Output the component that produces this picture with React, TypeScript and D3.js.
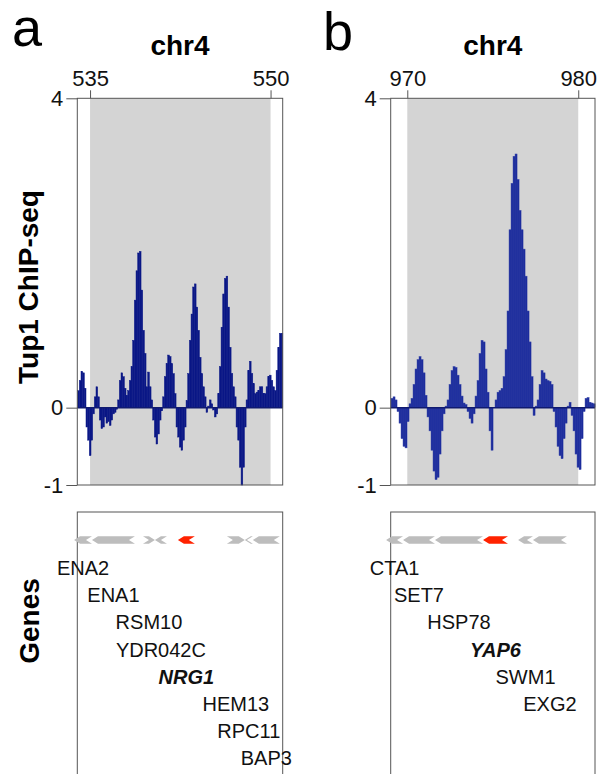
import { useEffect, useRef } from "react";
import * as d3 from "d3";

// Tup1 ChIP-seq signal around NRG1 (chr4, kb), bins
const nrg1Start = 533.97;
const nrg1Step = 0.1386;
const nrg1Signal = [
  0.22, 0.35, 0.47, 0.45, 0.25, -0.25, -0.42, -0.62, -0.42, -0.08,
  0.14, 0.27, 0.14, -0.16, -0.27, -0.25, -0.12, -0.2, -0.18, -0.23,
  -0.16, -0.08, -0.06, -0.02, 0.1, 0.35, 0.45, 0.4, 0.25, 0.16,
  0.22, 0.35, 0.53, 0.87, 1.39, 1.77, 2.0, 2.02, 1.52, 1.0,
  0.7, 0.27, 0.46, 0.27, 0.1, -0.16, -0.38, -0.47, -0.34, -0.16,
  -0.04, 0.14, 0.4, 0.57, 0.68, 0.66, 0.57, 0.44, 0.18, -0.25,
  -0.38, -0.51, -0.55, -0.42, -0.25, 0.09, 0.44, 0.87, 1.21, 1.56,
  1.6, 1.3, 1.0, 0.65, 0.44, 0.27, 0.14, -0.06, 0.02, 0.1,
  0.05, -0.03, -0.12, -0.08, 0.18, 0.53, 1.04, 1.47, 1.67, 1.7,
  1.3, 0.78, 0.44, 0.27, 0.14, -0.25, -0.42, -0.77, -1.0, -0.77,
  -0.25, 0.1, 0.48, 0.6, 0.44, 0.31, 0.18, 0.2, 0.22, 0.27,
  0.27, 0.18, 0.18, 0.27, 0.4, 0.42, 0.35, 0.27, 0.22, 0.48,
  0.78, 0.96, 0.96,
];

// same around YAP6
const yap6Start = 969.05;
const yap6Step = 0.117;
const yap6Signal = [
  0.12, 0.14, 0.1, -0.05, -0.2, -0.4, -0.5, -0.52, -0.18, 0.05,
  0.12, 0.3, 0.5, 0.62, 0.66, 0.62, 0.45, 0.16, -0.12, -0.3,
  -0.55, -0.82, -0.93, -0.9, -0.6, -0.3, -0.08, 0.02, 0.1, 0.3,
  0.48, 0.53, 0.52, 0.42, 0.3, 0.15, 0.06, 0.04, -0.05, -0.14,
  -0.2, -0.08, 0.15, 0.35, 0.7, 0.87, 0.85, 0.5, 0.2, -0.3,
  -0.55, 0.0, 0.1, 0.2, 0.22, 0.25, 0.4, 0.75, 1.25, 2.3,
  2.9, 3.25, 3.28, 2.95, 2.55, 2.3, 2.05, 1.7, 1.25, 0.85,
  0.4, -0.1, 0.02, 0.1, 0.3, 0.48, 0.45, 0.37, 0.35, 0.34,
  0.3, -0.05, -0.25, -0.5, -0.62, -0.66, -0.4, -0.2, 0.02, 0.07,
  -0.1, -0.3, -0.6, -0.77, -0.8, -0.4, -0.05, 0.12, 0.13, 0.07,
  0.06, 0.05,
];

// genes (kb), strand -1 = pointing left
const nrg1Genes = [
  { name: "ENA2", start: 533.67, end: 535.16, strand: -1 },
  { name: "ENA1", start: 535.16, end: 538.73, strand: -1 },
  { name: "RSM10", start: 539.4, end: 540.39, strand: 1 },
  { name: "YDR042C", start: 540.39, end: 541.39, strand: -1 },
  { name: "NRG1", start: 542.3, end: 543.71, strand: -1 },
  { name: "HEM13", start: 546.37, end: 547.86, strand: 1 },
  { name: "RPC11", start: 547.86, end: 548.53, strand: -1 },
  { name: "BAP3", start: 548.53, end: 550.77, strand: -1 },
];
const yap6Genes = [
  { name: "CTA1", start: 968.76, end: 969.75, strand: -1 },
  { name: "SET7", start: 969.75, end: 971.62, strand: -1 },
  { name: "HSP78", start: 971.62, end: 974.43, strand: -1 },
  { name: "YAP6", start: 974.43, end: 975.89, strand: -1 },
  { name: "SWM1", start: 976.48, end: 977.35, strand: -1 },
  { name: "EXG2", start: 977.35, end: 979.34, strand: -1 },
];

const nrg1Ticks = [535, 550];
const yap6Ticks = [970, 980];
const yTicks = [4, 0, -1];

const font = "'Liberation Sans', Arial, Helvetica, sans-serif";

type Gene = { name: string; start: number; end: number; strand: number };
type PanelOpts = {
  letter: string;
  letterX: number;
  letterY: number;
  left: number;
  right: number;
  domain: [number, number];
  ticks: number[];
  start: number;
  step: number;
  signal: number[];
  genes: Gene[];
  target: string;
  barFill: string;
  barStroke: string;
};

const drawPanel = (svg: d3.Selection<SVGSVGElement, unknown, null, undefined>, o: PanelOpts) => {
  const top = 98.3, bottom = 485;
  const x = d3.scaleLinear().domain(o.domain).range([o.left, o.right]);
  const y = d3.scaleLinear().domain([-1, 4]).range([bottom, top]);
  const g = svg.append("g");

  // panel letter
  g.append("text").attr("x", o.letterX).attr("y", o.letterY)
    .attr("font-size", 54).attr("font-family", font).text(o.letter);

  // title
  g.append("text").attr("x", (o.left + o.right) / 2).attr("y", 55)
    .attr("text-anchor", "middle").attr("font-size", 28).attr("font-weight", "bold")
    .attr("font-family", font).text("chr4");

  // shaded region between the two ticks
  g.append("rect")
    .attr("x", x(o.ticks[0])).attr("y", top)
    .attr("width", x(o.ticks[1]) - x(o.ticks[0])).attr("height", bottom - top)
    .attr("fill", "#d4d4d4");

  // bars
  g.append("g").selectAll("rect").data(o.signal).enter().append("rect")
    .attr("x", (_d, i) => x(o.start + i * o.step))
    .attr("width", x(o.start + o.step) - x(o.start))
    .attr("y", (d) => y(Math.max(0, d)))
    .attr("height", (d) => Math.abs(y(d) - y(0)))
    .attr("fill", o.barFill)
    .attr("stroke", o.barStroke).attr("stroke-width", 0.5);

  // zero line
  g.append("line").attr("x1", o.left).attr("x2", o.right)
    .attr("y1", y(0)).attr("y2", y(0))
    .attr("stroke", "#101a70").attr("stroke-width", 1.5);

  // frame
  g.append("rect").attr("x", o.left).attr("y", top)
    .attr("width", o.right - o.left).attr("height", bottom - top)
    .attr("fill", "none").attr("stroke", "#555").attr("stroke-width", 1);

  // top axis
  const xAxis = g.append("g").attr("transform", `translate(0,${top})`)
    .call(d3.axisTop(x).tickValues(o.ticks).tickSize(8).tickPadding(4).tickFormat((d) => String(d)));
  xAxis.select(".domain").remove();
  xAxis.selectAll("line").attr("stroke", "#555");
  xAxis.selectAll("text").attr("font-size", 22).attr("font-family", font).attr("fill", "#111");

  // left axis
  const yAxis = g.append("g").attr("transform", `translate(${o.left},0)`)
    .call(d3.axisLeft(y).tickValues(yTicks).tickSize(11).tickPadding(3).tickFormat((d) => String(d)));
  yAxis.select(".domain").remove();
  yAxis.selectAll("line").attr("stroke", "#555");
  yAxis.selectAll("text").attr("font-size", 22).attr("font-family", font).attr("fill", "#111");

  // gene panel
  const gTop = 512;
  g.append("rect").attr("x", o.left).attr("y", gTop)
    .attr("width", o.right - o.left).attr("height", 300)
    .attr("fill", "none").attr("stroke", "#555").attr("stroke-width", 1);

  const yc = 540, hh = 3.8, a = 6;
  const shape = (gn: Gene) => {
    const x1 = x(gn.start), x2 = x(gn.end);
    const pts = gn.strand < 0
      ? [[x1, yc], [x1 + a, yc - hh], [x2, yc - hh], [x2 - a, yc], [x2, yc + hh], [x1 + a, yc + hh]]
      : [[x2, yc], [x2 - a, yc - hh], [x1, yc - hh], [x1 + a, yc], [x1, yc + hh], [x2 - a, yc + hh]];
    return pts.map((p) => p.join(",")).join(" ");
  };
  g.append("g").selectAll("polygon").data(o.genes).enter().append("polygon")
    .attr("points", shape)
    .attr("fill", (d) => (d.name === o.target ? "#ff2200" : "#bdbdbd"));

  g.append("g").selectAll("text").data(o.genes).enter().append("text")
    .attr("x", (d) => (x(d.start) + x(d.end)) / 2)
    .attr("y", (_d, i) => 575 + i * 27.2)
    .attr("text-anchor", "middle").attr("font-size", 20).attr("font-family", font)
    .attr("fill", "#111")
    .attr("font-weight", (d) => (d.name === o.target ? "bold" : "normal"))
    .attr("font-style", (d) => (d.name === o.target ? "italic" : "normal"))
    .text((d) => d.name);
};

const App = () => {
  const ref = useRef<SVGSVGElement>(null);

  useEffect(() => {
    const svg = d3.select(ref.current!);
    svg.selectAll("*").remove();

    drawPanel(svg, {
      letter: "a", letterX: 12, letterY: 46,
      left: 77.3, right: 282.7, domain: [533.94, 551.01], ticks: nrg1Ticks,
      start: nrg1Start, step: nrg1Step, signal: nrg1Signal,
      genes: nrg1Genes, target: "NRG1", barFill: "#0a1786", barStroke: "#0a1786",
    });
    drawPanel(svg, {
      letter: "b", letterX: 323, letterY: 50,
      left: 390.7, right: 595, domain: [969.03, 980.98], ticks: yap6Ticks,
      start: yap6Start, step: yap6Step, signal: yap6Signal,
      genes: yap6Genes, target: "YAP6", barFill: "#17279a", barStroke: "#3443a8",
    });

    // axis titles
    svg.append("text").attr("transform", "translate(38,287) rotate(-90)")
      .attr("text-anchor", "middle").attr("font-size", 28).attr("font-weight", "bold")
      .attr("font-family", font).text("Tup1 ChIP-seq");
    svg.append("text").attr("transform", "translate(39,621) rotate(-90)")
      .attr("text-anchor", "middle").attr("font-size", 28).attr("font-weight", "bold")
      .attr("font-family", font).text("Genes");
  }, []);

  return (
    <svg ref={ref} width={600} height={774}
      style={{ position: "absolute", left: 0, top: 0, background: "#fff" }} />
  );
};

export default App;
